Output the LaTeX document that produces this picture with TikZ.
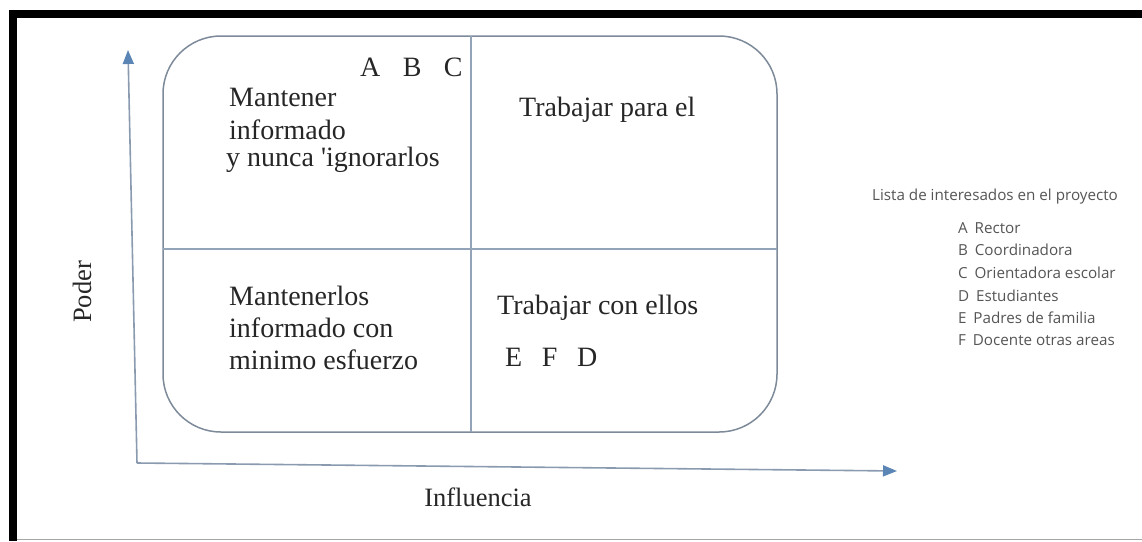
\documentclass[tikz,border=0pt]{standalone}
\usepackage{fontspec}
\setmainfont{Liberation Serif}
\newfontfamily\legendfont{Open Sans}
\usetikzlibrary{arrows.meta}
\definecolor{boxline}{HTML}{7D8A99}
\definecolor{divline}{HTML}{93A3B8}
\definecolor{axisline}{HTML}{8A9BB0}
\definecolor{axishead}{HTML}{5B85B5}
\definecolor{legendgray}{HTML}{555555}
\tikzset{
  quadtext/.style={font=\fontsize{28}{30}\selectfont, text=black!85, inner sep=0pt, anchor=west},
  axislabel/.style={font=\fontsize{26.5}{28}\selectfont, text=black!85, inner sep=0pt},
  legtext/.style={font=\legendfont\fontsize{15.2}{17}\selectfont, text=legendgray, inner sep=0pt, anchor=west},
  axisarrow/.style={draw=axisline, line width=1.6pt, -{Triangle[length=14pt,width=11pt,color=axishead]}},
}
\begin{document}
\begin{tikzpicture}[x=1pt,y=-1pt]
\useasboundingbox (0,0) rectangle (1142,541);
% frame
\fill[black] (9,10) rectangle (1142,18);
\fill[black] (9,10) rectangle (17,541);
\draw[gray!70, line width=1.2pt] (17,539.5) -- (1142,539.5);
% quadrant box
\draw[boxline, line width=1.5pt, rounded corners=58pt] (163,36) rectangle (777,432);
\coordinate (vt) at (471,36);
\coordinate (vb) at (471,432);
\coordinate (hl) at (163,249);
\coordinate (hr) at (777,249);
\draw[divline, line width=1.5pt] (vt) -- (vb);
\draw[divline, line width=1.5pt] (hl) -- (hr);
% axes
\coordinate (origin) at (137,463);
\coordinate (ytip) at (128,50);
\coordinate (xtip) at (897,471);
\draw[axisarrow] (origin) -- (ytip);
\draw[axisarrow] (origin) -- (xtip);
\node[axislabel, rotate=90] (poder) at (82,292) {Poder};
\node[axislabel] (influencia) at (478,497) {Influencia};
% quadrant texts
\node[quadtext] (abc) at (360,67) {A\hspace{0.8em}B\hspace{0.8em}C};
\node[quadtext] (q1a) at (229,97) {Mantener};
\node[quadtext] (q1b) at (229,130) {informado};
\node[quadtext] (q1c) at (226,160) {y nunca \textquotesingle ignorarlos};
\node[quadtext] (q2) at (519,110) {Trabajar para el};
\node[quadtext] (q3a) at (229,296) {Mantenerlos};
\node[quadtext] (q3b) at (229,328) {informado con};
\node[quadtext] (q3c) at (229,360) {minimo esfuerzo};
\node[quadtext] (q4) at (497,308) {Trabajar con ellos};
\node[quadtext] (efd) at (505,357) {E\hspace{0.7em}F\hspace{0.7em}D};
% legend
\node[legtext] (legtitle) at (872,197) {Lista de interesados en el proyecto};
\node[legtext] (la) at (958,228) {A\hspace{0.45em}Rector};
\node[legtext] (lb) at (958,250) {B\hspace{0.45em}Coordinadora};
\node[legtext] (lc) at (958,273) {C\hspace{0.45em}Orientadora escolar};
\node[legtext] (ld) at (958,296) {D\hspace{0.45em}Estudiantes};
\node[legtext] (le) at (958,318) {E\hspace{0.45em}Padres de familia};
\node[legtext] (lf) at (958,340) {F\hspace{0.45em}Docente otras areas};
\end{tikzpicture}
\end{document}
